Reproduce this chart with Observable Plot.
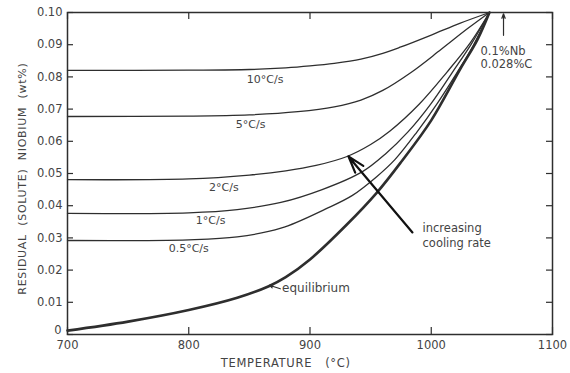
<!DOCTYPE html>
<html>
<head>
<meta charset="utf-8">
<script src="https://cdn.jsdelivr.net/npm/d3@7"></script>
<script src="https://cdn.jsdelivr.net/npm/@observablehq/plot@0.6"></script>
<style>
  html, body { margin: 0; padding: 0; background: #fff; }
</style>
</head>
<body>
<div id="chart"></div>
<script>
// ---- data (temperature °C, residual Nb wt%) ----
const xTicks = [700, 800, 900, 1000, 1100];
const yTicks = [0, 0.01, 0.02, 0.03, 0.04, 0.05, 0.06, 0.07, 0.08, 0.09, 0.10];
const yTickLabels = ["0", "0.01", "0.02", "0.03", "0.04", "0.05", "0.06", "0.07", "0.08", "0.09", "0.10"];

const t10 = [700, 800, 850, 880, 900, 920, 942, 960, 975, 1000, 1024, 1048];
const v10 = [0.082, 0.0821, 0.0823, 0.0828, 0.0834, 0.0842, 0.0855, 0.0873, 0.0893, 0.0930, 0.0967, 0.100];

const t5 = [700, 800, 850, 890, 920, 942, 960, 983, 1008, 1030, 1048];
const v5 = [0.0677, 0.0678, 0.0682, 0.0692, 0.0707, 0.0728, 0.0758, 0.0813, 0.0885, 0.0950, 0.100];

const t2 = [700, 800, 850, 880, 905, 930, 950, 966, 990, 1013, 1032, 1048];
const v2 = [0.0481, 0.0483, 0.0495, 0.0508, 0.0525, 0.0552, 0.0590, 0.0632, 0.0715, 0.0815, 0.0905, 0.100];

const t1 = [700, 800, 840, 876, 910, 943, 962, 981, 1000, 1017, 1033, 1048];
const v1 = [0.0376, 0.0378, 0.0388, 0.0410, 0.0450, 0.0505, 0.0560, 0.0630, 0.0718, 0.0812, 0.0902, 0.100];

const t05 = [700, 800, 840, 876, 913, 935, 955, 970, 988, 1005, 1021, 1035, 1048];
const v05 = [0.0292, 0.0294, 0.0303, 0.0330, 0.0390, 0.0432, 0.0490, 0.0543, 0.0628, 0.0718, 0.0812, 0.0900, 0.100];

const tEq = [700, 750, 800, 840, 866, 880, 900, 930, 955, 975, 1000, 1024, 1038, 1048];
const vEq = [0.0012, 0.0040, 0.0076, 0.0114, 0.0150, 0.0178, 0.0233, 0.0340, 0.0440, 0.0535, 0.0665, 0.0825, 0.0915, 0.100];

// curve labels (data coordinates)
const labelText = ["10°C/s", "5°C/s", "2°C/s", "1°C/s", "0.5°C/s"];
const labelT = [863, 851, 829, 818, 800];
const labelV = [0.0792, 0.0652, 0.0457, 0.0354, 0.0267];

const eqLabel = ["equilibrium"];
const eqLabelT = [877];
const eqLabelV = [0.0143];
const eqArrow = [{x1: 875.5, y1: 0.0142, x2: 866.5, y2: 0.0153}];

const rateLabel = ["increasing\ncooling rate"];
const rateLabelT = [992.8];
const rateLabelV = [0.0309];
const rateArrow = [{x1: 984.5, y1: 0.0317, x2: 931.7, y2: 0.0553}];

const compLabel = ["0.1%Nb\n0.028%C"];
const compLabelT = [1040.6];
const compLabelV = [0.0862];
const compArrow = [{x1: 1059.6, y1: 0.0929, x2: 1059.6, y2: 0.0996}];

const xTitle = ["TEMPERATURE   (°C)"];
const xTitleT = [880];
const yTitle = ["RESIDUAL  (SOLUTE)  NIOBIUM  (wt%)"];
const yTitleV = [0.0484];

const ink = "#2e2e2e";
const txt = "#444";

const series = [[t10, v10, 1.3], [t5, v5, 1.3], [t2, v2, 1.3], [t1, v1, 1.3], [t05, v05, 1.3], [tEq, vEq, 2.6]];

const chart = Plot.plot({
  width: 570,
  height: 373,
  marginLeft: 67,
  marginRight: 18,
  marginTop: 12,
  marginBottom: 39,
  style: {fontFamily: "DejaVu Sans", fontSize: "11.5px", color: txt, background: "#fff"},
  x: {domain: [700, 1100]},
  y: {domain: [0, 0.10]},
  marks: [
    // tick labels
    Plot.axisY(yTicks.slice(1), {anchor: "left", tickSize: 0, tickPadding: 5, tickFormat: (d, i) => yTickLabels[i + 1], label: null}),
    Plot.axisY(yTicks.slice(0, 1), {anchor: "left", tickSize: 0, tickPadding: 6, dy: -4, tickFormat: () => yTickLabels[0], label: null}),
    Plot.axisX(xTicks, {anchor: "bottom", tickSize: 0, tickPadding: 6, tickFormat: d => String(d), label: null}),
    // inward ticks on all four sides
    Plot.axisY(yTicks, {anchor: "right", frameAnchor: "left", tickSize: 5, tickFormat: () => "", label: null, stroke: ink, strokeWidth: 1.2}),
    Plot.axisY(yTicks, {anchor: "left", frameAnchor: "right", tickSize: 6, tickFormat: () => "", label: null, stroke: ink, strokeWidth: 1.2}),
    Plot.axisX(xTicks, {anchor: "top", frameAnchor: "bottom", tickSize: 8, tickFormat: () => "", label: null, stroke: ink, strokeWidth: 1.2}),
    Plot.axisX(xTicks, {anchor: "bottom", frameAnchor: "top", tickSize: 7, tickFormat: () => "", label: null, stroke: ink, strokeWidth: 1.2}),
    Plot.frame({stroke: ink, strokeWidth: 1.5}),
    // curves
    ...series.map(([t, v, w]) => Plot.line(v, {x: t, y: v, curve: "catmull-rom", stroke: ink, strokeWidth: w})),
    // curve labels
    Plot.text(labelText, {x: labelT, y: labelV, text: d => d, fill: txt, fontSize: 11}),
    Plot.text(eqLabel, {x: eqLabelT, y: eqLabelV, text: d => d, textAnchor: "start", fill: txt, fontSize: 12}),
    Plot.arrow(eqArrow, {x1: "x1", y1: "y1", x2: "x2", y2: "y2", stroke: ink, strokeWidth: 1.2, headLength: 5, headAngle: 50}),
    Plot.text(rateLabel, {x: rateLabelT, y: rateLabelV, text: d => d, textAnchor: "start", fill: txt, fontSize: 11.5, lineHeight: 1.3}),
    Plot.arrow(rateArrow, {x1: "x1", y1: "y1", x2: "x2", y2: "y2", stroke: "#111", strokeWidth: 2.2, headLength: 12, headAngle: 35}),
    Plot.text(compLabel, {x: compLabelT, y: compLabelV, text: d => d, textAnchor: "start", fill: txt, fontSize: 11.5, lineHeight: 1.15}),
    Plot.arrow(compArrow, {x1: "x1", y1: "y1", x2: "x2", y2: "y2", stroke: ink, strokeWidth: 1.2, headLength: 6, headAngle: 40}),
    // axis titles
    Plot.text(xTitle, {x: xTitleT, frameAnchor: "bottom", dy: 29, text: d => d, fill: txt, fontSize: 11.5, lineAnchor: "middle"}),
    Plot.text(yTitle, {y: yTitleV, frameAnchor: "left", dx: -45, rotate: -90, textAnchor: "middle", text: d => d, fill: txt, fontSize: 11})
  ]
});
d3.select(chart).selectAll("text")
  .filter(function () { return this.textContent === yTitle[0] || this.textContent === xTitle[0]; })
  .style("letter-spacing", "0.7px");
document.getElementById("chart").appendChild(chart);
</script>
</body>
</html>
